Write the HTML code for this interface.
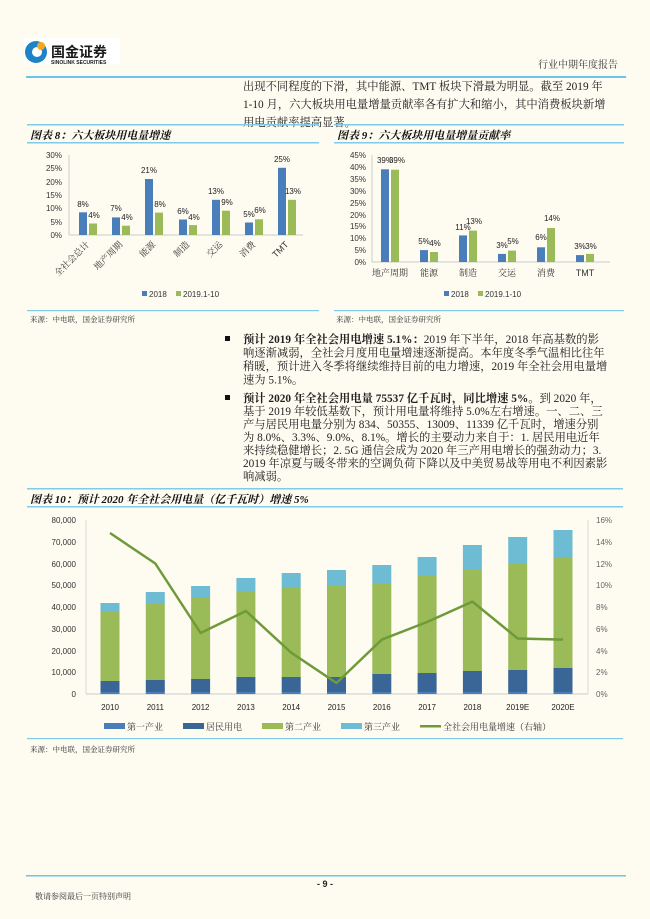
<!DOCTYPE html>
<html><head><meta charset="utf-8"><style>
html,body{margin:0;padding:0;background:#fefbf1;}
svg{display:block;font-family:"Liberation Sans","Noto Sans CJK SC",sans-serif;}
.s{font-family:"Liberation Serif","Noto Serif CJK SC",serif;}
</style></head><body>
<svg width="650" height="919" viewBox="0 0 650 919" xmlns="http://www.w3.org/2000/svg">
<rect width="650" height="919" fill="#fefbf1"/>
<!-- header -->
<rect x="24" y="38" width="96" height="26" fill="#fff"/>
<circle cx="36" cy="52" r="11" fill="#1d83c6"/>
<circle cx="37" cy="52" r="5" fill="#fff"/>
<circle cx="41" cy="46" r="4" fill="#f5a623"/>
<text x="51" y="57" font-size="14" font-weight="bold" fill="#1a1a1a">国金证券</text>
<text x="51" y="64" font-size="5" font-weight="bold" fill="#1a1a1a">SINOLINK SECURITIES</text>
<text x="618" y="68" font-size="10" text-anchor="end" fill="#333" class="s">行业中期年度报告</text>
<rect x="26" y="76" width="600" height="2" fill="#6cc4e8"/>
<g class="s" font-size="11.3" fill="#222">
<text x="243" y="90">出现不同程度的下滑，其中能源、TMT 板块下滑最为明显。截至 2019 年</text>
<text x="243" y="108">1-10 月，六大板块用电量增量贡献率各有扩大和缩小，其中消费板块新增</text>
<text x="243" y="126">用电贡献率提高显著。</text>
</g>
<!-- chart 8 -->
<rect x="27" y="124" width="292" height="1.5" fill="#7fcbea"/>
<text x="30" y="139" font-size="11" font-weight="bold" font-style="italic" class="s" fill="#111">图表 8：六大板块用电量增速</text>
<rect x="27" y="142" width="292" height="1.5" fill="#7fcbea"/>
<g font-size="8" fill="#333" text-anchor="end">
<text x="62" y="158">30%</text><text x="62" y="171">25%</text><text x="62" y="185">20%</text><text x="62" y="198">15%</text><text x="62" y="211">10%</text><text x="62" y="225">5%</text><text x="62" y="238">0%</text>
</g>
<line x1="69" y1="155" x2="69" y2="235" stroke="#bbb" stroke-width="0.7"/>
<line x1="69" y1="235" x2="303" y2="235" stroke="#bbb" stroke-width="0.7"/>
<g fill="#4a7ebb">
<rect x="79" y="212.3" width="8" height="22.7"/><rect x="112" y="217.4" width="8" height="17.6"/><rect x="145" y="179" width="8" height="56"/><rect x="179" y="219.5" width="8" height="15.5"/><rect x="212" y="199.8" width="8" height="35.2"/><rect x="245" y="222.5" width="8" height="12.5"/><rect x="278" y="167.8" width="8" height="67.2"/>
</g>
<g fill="#9bbb59">
<rect x="89" y="223.5" width="8" height="11.5"/><rect x="122" y="225.7" width="8" height="9.3"/><rect x="155" y="212.6" width="8" height="22.4"/><rect x="189" y="225.1" width="8" height="9.9"/><rect x="222" y="210.7" width="8" height="24.3"/><rect x="255" y="219.3" width="8" height="15.7"/><rect x="288" y="199.8" width="8" height="35.2"/>
</g>
<g font-size="8" fill="#222" text-anchor="middle">
<text x="83" y="207">8%</text><text x="94" y="218">4%</text>
<text x="116" y="211">7%</text><text x="127" y="220">4%</text>
<text x="149" y="173">21%</text><text x="160" y="207">8%</text>
<text x="183" y="214">6%</text><text x="194" y="220">4%</text>
<text x="216" y="194">13%</text><text x="227" y="205">9%</text>
<text x="249" y="217">5%</text><text x="260" y="213">6%</text>
<text x="282" y="162">25%</text><text x="293" y="194">13%</text>
</g>
<g font-size="9" fill="#333" text-anchor="end" class="s">
<text transform="translate(90,245) rotate(-45)">全社会总计</text>
<text transform="translate(123,245) rotate(-45)">地产周期</text>
<text transform="translate(156,245) rotate(-45)">能源</text>
<text transform="translate(190,245) rotate(-45)">制造</text>
<text transform="translate(223,245) rotate(-45)">交运</text>
<text transform="translate(256,245) rotate(-45)">消费</text>
<text transform="translate(289,245) rotate(-45)" font-family="Liberation Sans">TMT</text>
</g>
<rect x="142" y="291" width="5" height="5" fill="#4a7ebb"/><text x="149" y="297" font-size="8" fill="#333">2018</text>
<rect x="176" y="291" width="5" height="5" fill="#9bbb59"/><text x="183" y="297" font-size="8" fill="#333">2019.1-10</text>
<rect x="27" y="310" width="292" height="1.2" fill="#7fcbea"/>
<text x="30" y="322" font-size="7.5" class="s" fill="#333">来源：中电联，国金证券研究所</text>
<!-- chart 9 -->
<rect x="334" y="124" width="290" height="1.5" fill="#7fcbea"/>
<text x="337" y="139" font-size="11" font-weight="bold" font-style="italic" class="s" fill="#111">图表 9：六大板块用电量增量贡献率</text>
<rect x="334" y="142" width="290" height="1.5" fill="#7fcbea"/>
<g font-size="8" fill="#333" text-anchor="end">
<text x="366" y="158">45%</text><text x="366" y="170">40%</text><text x="366" y="182">35%</text><text x="366" y="194">30%</text><text x="366" y="206">25%</text><text x="366" y="218">20%</text><text x="366" y="229">15%</text><text x="366" y="241">10%</text><text x="366" y="253">5%</text><text x="366" y="265">0%</text>
</g>
<line x1="372" y1="155" x2="372" y2="262" stroke="#bbb" stroke-width="0.7"/>
<line x1="372" y1="262" x2="610" y2="262" stroke="#bbb" stroke-width="0.7"/>
<g fill="#4a7ebb">
<rect x="381" y="169.3" width="8" height="92.7"/><rect x="420" y="250.1" width="8" height="11.9"/><rect x="459" y="235.4" width="8" height="26.6"/><rect x="498" y="253.9" width="8" height="8.1"/><rect x="537" y="247.3" width="8" height="14.7"/><rect x="576" y="255.1" width="8" height="6.9"/>
</g>
<g fill="#9bbb59">
<rect x="391" y="169.7" width="8" height="92.3"/><rect x="430" y="252" width="8" height="10"/><rect x="469" y="230.6" width="8" height="31.4"/><rect x="508" y="250.6" width="8" height="11.4"/><rect x="547" y="228" width="8" height="34"/><rect x="586" y="253.9" width="8" height="8.1"/>
</g>
<g font-size="8" fill="#222" text-anchor="middle">
<text x="385" y="163">39%</text><text x="397" y="163">39%</text>
<text x="424" y="244">5%</text><text x="435" y="246">4%</text>
<text x="463" y="230">11%</text><text x="474" y="224">13%</text>
<text x="502" y="248">3%</text><text x="513" y="244">5%</text>
<text x="541" y="240">6%</text><text x="552" y="221">14%</text>
<text x="580" y="249">3%</text><text x="591" y="249">3%</text>
</g>
<g font-size="9" fill="#333" text-anchor="middle" class="s">
<text x="390" y="276">地产周期</text><text x="429" y="276">能源</text><text x="468" y="276">制造</text><text x="507" y="276">交运</text><text x="546" y="276">消费</text><text x="585" y="276" font-family="Liberation Sans">TMT</text>
</g>
<rect x="444" y="291" width="5" height="5" fill="#4a7ebb"/><text x="451" y="297" font-size="8" fill="#333">2018</text>
<rect x="478" y="291" width="5" height="5" fill="#9bbb59"/><text x="485" y="297" font-size="8" fill="#333">2019.1-10</text>
<rect x="334" y="310" width="290" height="1.2" fill="#7fcbea"/>
<text x="336" y="322" font-size="7.5" class="s" fill="#333">来源：中电联，国金证券研究所</text>
<!-- bullets -->
<g class="s" font-size="11.3" fill="#222">
<rect x="225" y="336" width="5" height="5" fill="#111"/>
<text x="243" y="343"><tspan font-weight="bold">预计 2019 年全社会用电增速 5.1%：</tspan>2019 年下半年，2018 年高基数的影</text>
<text x="243" y="356.5">响逐渐减弱，全社会月度用电量增速逐渐提高。本年度冬季气温相比往年</text>
<text x="243" y="370">稍暖，预计进入冬季将继续维持目前的电力增速，2019 年全社会用电量增</text>
<text x="243" y="383.5">速为 5.1%。</text>
<rect x="225" y="395" width="5" height="5" fill="#111"/>
<text x="243" y="402"><tspan font-weight="bold">预计 2020 年全社会用电量 75537 亿千瓦时，同比增速 5%。</tspan>到 2020 年，</text>
<text x="243" y="415">基于 2019 年较低基数下，预计用电量将维持 5.0%左右增速。一、二、三</text>
<text x="243" y="428">产与居民用电量分别为 834、50355、13009、11339 亿千瓦时，增速分别</text>
<text x="243" y="441">为 8.0%、3.3%、9.0%、8.1%。增长的主要动力来自于：1. 居民用电近年</text>
<text x="243" y="454">来持续稳健增长；2. 5G 通信会成为 2020 年三产用电增长的强劲动力；3.</text>
<text x="243" y="467">2019 年凉夏与暖冬带来的空调负荷下降以及中美贸易战等用电不利因素影</text>
<text x="243" y="480">响减弱。</text>
</g>
<!-- chart 10 -->
<rect x="27" y="488" width="596" height="1.5" fill="#7fcbea"/>
<text x="30" y="503" font-size="11" font-weight="bold" font-style="italic" class="s" fill="#111">图表 10：预计 2020 年全社会用电量（亿千瓦时）增速 5%</text>
<rect x="27" y="506" width="596" height="1.5" fill="#7fcbea"/>
<g font-size="8" fill="#333" text-anchor="end">
<text x="76" y="523">80,000</text><text x="76" y="545">70,000</text><text x="76" y="567">60,000</text><text x="76" y="588">50,000</text><text x="76" y="610">40,000</text><text x="76" y="632">30,000</text><text x="76" y="654">20,000</text><text x="76" y="675">10,000</text><text x="76" y="697">0</text>
</g>
<g font-size="8" fill="#666">
<text x="596" y="523">16%</text><text x="596" y="545">14%</text><text x="596" y="567">12%</text><text x="596" y="588">10%</text><text x="596" y="610">8%</text><text x="596" y="632">6%</text><text x="596" y="654">4%</text><text x="596" y="675">2%</text><text x="596" y="697">0%</text>
</g>
<line x1="86" y1="520" x2="86" y2="694" stroke="#ccc" stroke-width="0.7"/>
<line x1="588" y1="520" x2="588" y2="694" stroke="#ccc" stroke-width="0.7"/>
<line x1="86" y1="694" x2="588" y2="694" stroke="#bbb" stroke-width="0.7"/>
<g id="bars">
<!-- third -->
<g fill="#6dbcd4">
<rect x="100.5" y="603" width="19" height="9"/><rect x="145.8" y="592" width="19" height="11"/><rect x="191.1" y="586" width="19" height="12"/><rect x="236.4" y="578" width="19" height="14"/><rect x="281.7" y="573" width="19" height="15"/><rect x="327" y="570" width="19" height="16"/><rect x="372.3" y="565" width="19" height="18"/><rect x="417.6" y="557" width="19" height="19"/><rect x="462.9" y="545" width="19" height="24"/><rect x="508.2" y="537" width="19" height="27"/><rect x="553.5" y="530" width="19" height="28"/>
</g>
<g fill="#9bbb59">
<rect x="100.5" y="612" width="19" height="69"/><rect x="145.8" y="603" width="19" height="77"/><rect x="191.1" y="598" width="19" height="81"/><rect x="236.4" y="592" width="19" height="85"/><rect x="281.7" y="588" width="19" height="89"/><rect x="327" y="586" width="19" height="91"/><rect x="372.3" y="583" width="19" height="91"/><rect x="417.6" y="576" width="19" height="97"/><rect x="462.9" y="569" width="19" height="102"/><rect x="508.2" y="564" width="19" height="106"/><rect x="553.5" y="558" width="19" height="110"/>
</g>
<g fill="#3a6597">
<rect x="100.5" y="681" width="19" height="11"/><rect x="145.8" y="680" width="19" height="12"/><rect x="191.1" y="679" width="19" height="13"/><rect x="236.4" y="677" width="19" height="15"/><rect x="281.7" y="677" width="19" height="15"/><rect x="327" y="677" width="19" height="15"/><rect x="372.3" y="674" width="19" height="18"/><rect x="417.6" y="673" width="19" height="19"/><rect x="462.9" y="671" width="19" height="21"/><rect x="508.2" y="670" width="19" height="22"/><rect x="553.5" y="668" width="19" height="24"/>
</g>
<g fill="#4a7ebb">
<rect x="100.5" y="692" width="19" height="2"/><rect x="145.8" y="692" width="19" height="2"/><rect x="191.1" y="692" width="19" height="2"/><rect x="236.4" y="692" width="19" height="2"/><rect x="281.7" y="692" width="19" height="2"/><rect x="327" y="692" width="19" height="2"/><rect x="372.3" y="692" width="19" height="2"/><rect x="417.6" y="692" width="19" height="2"/><rect x="462.9" y="692" width="19" height="2"/><rect x="508.2" y="692" width="19" height="2"/><rect x="553.5" y="692" width="19" height="2"/>
</g>
</g>
<polyline points="110,533 155.3,563.5 200.6,633 245.9,611 291.2,652.7 336.5,683 381.8,639.6 427.1,622 472.4,601.6 517.7,638.5 563,639.6" fill="none" stroke="#6f9a3a" stroke-width="2.5" stroke-linejoin="round"/>
<g font-size="8" fill="#222" text-anchor="middle">
<text x="110" y="710">2010</text><text x="155.3" y="710">2011</text><text x="200.6" y="710">2012</text><text x="245.9" y="710">2013</text><text x="291.2" y="710">2014</text><text x="336.5" y="710">2015</text><text x="381.8" y="710">2016</text><text x="427.1" y="710">2017</text><text x="472.4" y="710">2018</text><text x="517.7" y="710">2019E</text><text x="563" y="710">2020E</text>
</g>
<g font-size="9" fill="#333" class="s">
<rect x="104" y="723" width="21" height="6" fill="#4a7ebb"/><text x="127" y="730">第一产业</text>
<rect x="183" y="723" width="21" height="6" fill="#3a6597"/><text x="206" y="730">居民用电</text>
<rect x="262" y="723" width="21" height="6" fill="#9bbb59"/><text x="285" y="730">第二产业</text>
<rect x="341" y="723" width="21" height="6" fill="#6dbcd4"/><text x="364" y="730">第三产业</text>
<rect x="420" y="725" width="21" height="2.5" fill="#6f9a3a"/><text x="443" y="730">全社会用电量增速（右轴）</text>
</g>
<rect x="27" y="738" width="596" height="1.2" fill="#7fcbea"/>
<text x="30" y="752" font-size="7.5" class="s" fill="#333">来源：中电联，国金证券研究所</text>
<!-- footer -->
<rect x="26" y="875" width="600" height="1.5" fill="#6cc4e8"/>
<text x="325" y="887" font-size="9" font-weight="bold" text-anchor="middle" fill="#222">- 9 -</text>
<text x="35" y="899" font-size="8" class="s" fill="#333">敬请参阅最后一页特别声明</text>
</svg>
</body></html>
